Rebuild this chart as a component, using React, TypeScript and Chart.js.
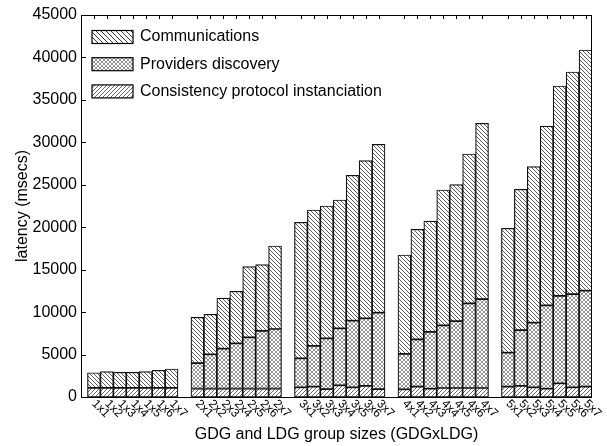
import React, { useEffect, useRef } from "react";
import { Chart, registerables } from "chart.js";

Chart.register(...registerables);

// ---- data ----
const categories = [
  "1x1", "1x2", "1x3", "1x4", "1x5", "1x6", "1x7",
  "2x1", "2x2", "2x3", "2x4", "2x5", "2x6", "2x7",
  "3x1", "3x2", "3x3", "3x4", "3x5", "3x6", "3x7",
  "4x1", "4x2", "4x3", "4x4", "4x5", "4x6", "4x7",
  "5x1", "5x2", "5x3", "5x4", "5x5", "5x6", "5x7",
];
const barsPerGroup = 7;

const seriesNames = [
  "Communications",
  "Providers discovery",
  "Consistency protocol instanciation",
];

// bottom segment
const consistency = [
  1080, 1080, 1080, 1080, 1080, 1080, 1080,
  1000, 1000, 1000, 1000, 1000, 1000, 1000,
  1140, 1210, 940, 1380, 1140, 1300, 940,
  910, 1220, 980, 1060, 1060, 1060, 1060,
  1220, 1300, 1140, 980, 1610, 1140, 1220,
];
// middle segment
const providers = [
  0, 0, 0, 0, 0, 0, 0,
  3000, 4030, 4690, 5330, 6030, 6780, 7010,
  3420, 4800, 5980, 6710, 7850, 7970, 8990,
  4160, 5570, 6680, 7380, 7890, 9970, 10480,
  4000, 6590, 7610, 9820, 10290, 10990, 11300,
];
// top segment
const communications = [
  1780, 1900, 1830, 1830, 1900, 2070, 2220,
  5390, 4710, 5970, 6120, 8320, 7810, 9780,
  16020, 16020, 15580, 15120, 17130, 18570, 19840,
  11660, 12970, 13070, 15950, 16060, 17600, 20700,
  14650, 16580, 18380, 21120, 24740, 26160, 28360,
];

const yTicks = [0, 5000, 10000, 15000, 20000, 25000, 30000, 35000, 40000, 45000];
const xTitle = "GDG and LDG group sizes (GDGxLDG)";
const yTitle = "latency (msecs)";

const FONT = "'Liberation Sans', Arial, Helvetica, sans-serif";

// position of bar i on the linear x axis: groups separated by one empty slot
const xPos = (i: number) => Math.floor(i / barsPerGroup) * (barsPerGroup + 1) + (i % barsPerGroup);

function makePattern(
  main: CanvasRenderingContext2D,
  kind: "back" | "fwd" | "cross",
  size: number,
  color: string,
  lw: number
) {
  const c = document.createElement("canvas");
  c.width = size;
  c.height = size;
  const x = c.getContext("2d")!;
  x.fillStyle = "#fff";
  x.fillRect(0, 0, size, size);
  x.strokeStyle = color;
  x.lineWidth = lw;
  x.beginPath();
  for (const k of [-size, 0, size]) {
    if (kind === "back" || kind === "cross") {
      x.moveTo(k, 0);
      x.lineTo(k + size, size);
    }
    if (kind === "fwd" || kind === "cross") {
      x.moveTo(k, size);
      x.lineTo(k + size, 0);
    }
  }
  x.stroke();
  return main.createPattern(c, "repeat")!;
}

export default function App() {
  const ref = useRef<HTMLCanvasElement | null>(null);

  useEffect(() => {
    document.body.style.margin = "0";
    const canvas = ref.current!;
    const ctx = canvas.getContext("2d")!;
    const pComm = makePattern(ctx, "back", 4, "#333", 0.8);
    const pProv = makePattern(ctx, "cross", 4, "#666", 0.7);
    const pCons = makePattern(ctx, "fwd", 4, "#444", 0.8);
    const pCommLegend = makePattern(ctx, "back", 5, "#222", 0.9);

    const legendItems = [
      { label: seriesNames[0], fill: pCommLegend },
      { label: seriesNames[1], fill: pProv },
      { label: seriesNames[2], fill: pCons },
    ];

    const axesPlugin = {
      id: "gnuAxes",
      beforeDatasetsDraw(chart: any) {
        const { ctx: c, chartArea: a } = chart;
        const ys = chart.scales.y;
        const xs = chart.scales.x;
        c.save();
        c.strokeStyle = "#000";
        c.lineWidth = 1;
        c.beginPath();
        for (const v of yTicks) {
          const y = Math.round(ys.getPixelForValue(v)) + 0.5;
          c.moveTo(a.left, y);
          c.lineTo(a.left + 5, y);
          c.moveTo(a.right, y);
          c.lineTo(a.right - 5, y);
        }
        for (let i = 0; i < categories.length; i++) {
          const x = Math.round(xs.getPixelForValue(xPos(i))) + 0.5;
          c.moveTo(x, a.top);
          c.lineTo(x, a.top + 4);
          c.moveTo(x, a.bottom);
          c.lineTo(x, a.bottom - 4);
        }
        c.stroke();
        c.restore();
      },
      afterDraw(chart: any) {
        const { ctx: c, chartArea: a } = chart;
        const xs = chart.scales.x;
        c.save();
        // frame
        c.strokeStyle = "#000";
        c.lineWidth = 1;
        c.strokeRect(Math.round(a.left) + 0.5, Math.round(a.top) + 0.5, Math.round(a.right - a.left) - 1, Math.round(a.bottom - a.top));
        // x tick labels rotated
        c.fillStyle = "#000";
        c.font = `12px ${FONT}`;
        c.textAlign = "left";
        c.textBaseline = "middle";
        for (let i = 0; i < categories.length; i++) {
          const x = xs.getPixelForValue(xPos(i));
          c.save();
          c.translate(x, a.bottom + 5);
          c.rotate(Math.PI / 4);
          c.fillText(categories[i], 0, 0);
          c.restore();
        }
        // legend
        c.font = `16px ${FONT}`;
        c.textBaseline = "middle";
        legendItems.forEach((it, i) => {
          const cy = a.top + 22 + i * 27.2;
          const bx = a.left + 11;
          c.fillStyle = it.fill;
          c.fillRect(bx, cy - 6.5, 41, 13);
          c.strokeStyle = "#000";
          c.lineWidth = 1.2;
          c.strokeRect(bx, cy - 6.5, 41, 13);
          c.fillStyle = "#000";
          c.fillText(it.label, bx + 48, cy);
        });
        c.restore();
      },
    };

    const mk = (vals: number[]) => categories.map((_, i) => ({ x: xPos(i), y: vals[i] }));
    const barStyle = {
      borderColor: "#111",
      borderWidth: 1.2,
      borderSkipped: false as const,
      barPercentage: 1,
      categoryPercentage: 1,
    };

    const chart = new Chart(ctx, {
      type: "bar",
      data: {
        datasets: [
          { label: seriesNames[2], data: mk(consistency), backgroundColor: pCons, ...barStyle },
          { label: seriesNames[1], data: mk(providers), backgroundColor: pProv, ...barStyle },
          { label: seriesNames[0], data: mk(communications), backgroundColor: pComm, ...barStyle },
        ],
      } as any,
      options: {
        animation: false,
        responsive: false,
        maintainAspectRatio: false,
        layout: { padding: { top: 15, right: 15, left: 0, bottom: 0 } },
        plugins: { legend: { display: false }, tooltip: { enabled: false } },
        scales: {
          x: {
            type: "linear",
            stacked: true,
            offset: false,
            min: -1,
            max: 38.5,
            grid: { display: false, drawTicks: false, offset: false },
            border: { display: false },
            ticks: { display: false },
            title: {
              display: true,
              text: xTitle,
              color: "#000",
              font: { family: FONT, size: 16 },
              padding: { top: 0, bottom: 1.5 },
            },
            afterFit: (s: any) => {
              s.height = 49;
            },
          },
          y: {
            stacked: true,
            min: 0,
            max: 45000,
            grid: { display: false, drawTicks: false },
            border: { display: false },
            afterBuildTicks: (s: any) => {
              s.ticks = yTicks.map((v) => ({ value: v }));
            },
            ticks: {
              color: "#000",
              font: { family: FONT, size: 16 },
              padding: 4,
              callback: (v: any) => String(v),
            },
            title: {
              display: true,
              text: yTitle,
              color: "#000",
              font: { family: FONT, size: 16 },
              padding: { top: 12.5, bottom: 0 },
            },
            afterFit: (s: any) => {
              s.width = 81;
            },
          },
        },
      } as any,
      plugins: [axesPlugin],
    });
    return () => chart.destroy();
  }, []);

  return <canvas ref={ref} width={607} height={446} style={{ display: "block", width: 607, height: 446 }} />;
}
